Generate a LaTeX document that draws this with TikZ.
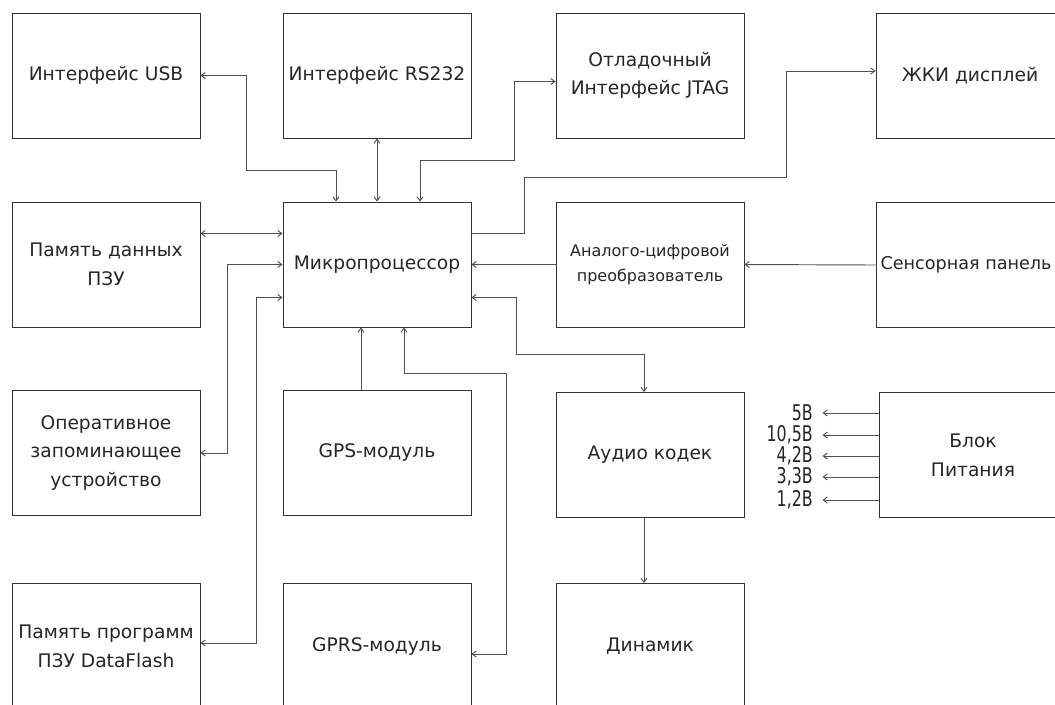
\documentclass[tikz,border=0pt]{standalone}
\usepackage{fontspec}
\setmainfont{DejaVu Sans}
\usepackage{xcolor}
\usepackage{tikz}
\usetikzlibrary{positioning,calc,arrows.meta}
\definecolor{linegray}{HTML}{505050}
\definecolor{boxgray}{HTML}{333333}

\begin{document}
\begin{tikzpicture}[x=0.75pt,y=-0.75pt,
    >={Straight Barb[length=3pt,width=4.5pt]},
    block/.style={draw=boxgray, line width=0.7pt, minimum width=141pt, minimum height=93.75pt,
        inner sep=2pt, align=center, text=black!85, font=\fontsize{14}{21.5}\selectfont},
    link/.style={draw=linegray, line width=0.7pt},
    volt/.style={anchor=east, inner sep=0pt, xshift=-7pt, text=black!85, font=\fontsize{12.5}{14}\selectfont}]

    \useasboundingbox (0,0) rectangle (1055,704);
    \clip (0,0) rectangle (1055,704);
    \fill[white] (0,0) rectangle (1055,704);

    % Blocks
    \node[block] (usb) at (106,75.5) {Интерфейс USB};
    \node[block] (rs) at (377,75.5) {Интерфейс RS232};
    \node[block] (jtag) at (650,75.5) {Отладочный\\Интерфейс JTAG};
    \node[block] (lcd) at (970,76) {ЖКИ дисплей};

    \node[block] (pzu) at (106,264.5) {Память данных\\ПЗУ};
    \node[block] (mcu) at (377,264.5) {Микропроцессор};
    \node[block, font=\fontsize{12}{19}\selectfont] (adc) at (650,264.5) {Аналого-цифровой\\преобразователь};
    \node[block, font=\fontsize{13.2}{20}\selectfont] (sens) at (970,265) {\hspace*{-6pt}Сенсорная панель};

    \node[block] (ram) at (106,453) {Оперативное\\запоминающее\\устройство};
    \node[block] (gps) at (377,453) {GPS-модуль};
    \node[block] (audio) at (650,455) {Аудио кодек};
    \node[block] (pwr) at (973,455) {Блок\\Питания};

    \node[block] (flash) at (106,646) {Память программ\\ПЗУ DataFlash};
    \node[block] (gprs) at (377,646) {GPRS-модуль};
    \node[block] (dyn) at (650,646) {Динамик};

    % Links to the microprocessor
    \draw[link,<->] (usb.east) -| (246,170) -| ($(mcu.north)+(-41,0)$);
    \draw[link,<->] (rs.south) -- (mcu.north);
    \draw[link,<->] ($(mcu.north)+(43,0)$) |- (514,160) |- ($(jtag.west)+(0,6)$);
    \draw[link,->] ($(mcu.east)+(0,-31)$) -| (524,177) -| ($(lcd.west)+(-89,-5)$) -- ($(lcd.west)+(0,-5)$);
    \draw[link,<->] ($(pzu.east)+(0,-31)$) -- ($(mcu.west)+(0,-31)$);
    \draw[link,->] (adc.west) -- (mcu.east);
    \draw[link,->] (sens.west) -- (adc.east);
    \draw[link,<->] (mcu.west) -| ($(ram.east)+(27,0)$) -- (ram.east);
    \draw[link,<->] ($(mcu.west)+(0,33)$) -| ($(flash.east)+(56,-3)$) -- ($(flash.east)+(0,-3)$);
    \draw[link,->] ($(gps.north)+(-16,0)$) -- ($(mcu.south)+(-16,0)$);
    \draw[link,<->] ($(mcu.south)+(27,0)$) |- (506,373) |- ($(gprs.east)+(0,8)$);
    \draw[link,<->] ($(mcu.east)+(0,33)$) -| (516,354) -| ($(audio.north)+(-6,0)$);
    \draw[link,->] ($(audio.south)+(-6,0)$) -- ($(dyn.north)+(-6,0)$);

    % Supply voltages
    \foreach \dy/\lab [count=\i] in {-42/5В, -20/{10,5В}, 1/{4,2В}, 22/{3,3В}, 45/{1,2В}}
        \draw[link,->] ($(pwr.west)+(0,\dy)$) -- ++(-56,0) node[volt] (v\i) {\scalebox{0.95}[1.3]{\lab}};
\end{tikzpicture}
\end{document}
